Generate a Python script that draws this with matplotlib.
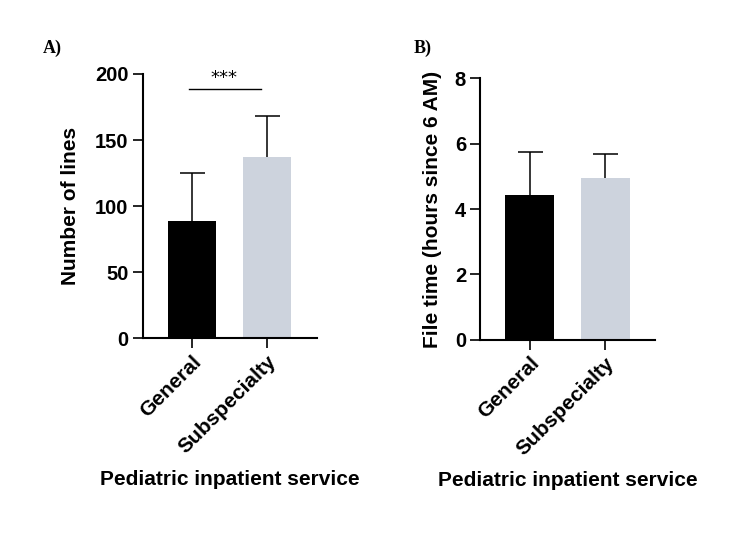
import numpy as np
import matplotlib
matplotlib.use("Agg")
import matplotlib.pyplot as plt

# data
groups = ["General", "Subspecialty"]
lines_mean = [89, 137]
lines_sd = [36, 31]
filetime_mean = [4.42, 4.94]
filetime_sd = [1.33, 0.74]

bar_colors = ["#000000", "#cdd3dd"]

plt.rcParams["font.family"] = ["Liberation Sans", "DejaVu Sans"]
plt.rcParams["font.weight"] = "bold"

fig = plt.figure(figsize=(7.5, 5.36), dpi=100)


def draw_panel(ax, means, sds, ylim, yticks, ylabel, ylabel_x, xlabel_y):
    x = np.arange(len(means))
    ax.bar(x, means, width=0.65, color=bar_colors, zorder=2)
    # upper error bars only
    _, caps, _ = ax.errorbar(x, means, yerr=[np.zeros(len(sds)), sds],
                             fmt="none", ecolor="black", elinewidth=1.1,
                             capsize=9, capthick=1.1, zorder=1)
    caps[0].set_visible(False)
    ax.set_xlim(-0.66, 1.66)
    ax.set_ylim(*ylim)
    ax.set_yticks(yticks)
    ax.set_xticks(x)
    ax.set_xticklabels(groups, rotation=45, ha="right",
                       rotation_mode="anchor", fontsize=15, fontweight="bold")
    for lab in ax.get_yticklabels():
        lab.set_fontsize(14.5)
        lab.set_fontweight("bold")
    for s in ["top", "right"]:
        ax.spines[s].set_visible(False)
    for s in ["left", "bottom"]:
        ax.spines[s].set_linewidth(1.5)
    ax.tick_params(axis="both", length=7, width=1.2, pad=3)
    ax.set_ylabel(ylabel, fontsize=15, fontweight="bold")
    ax.yaxis.set_label_coords(ylabel_x, 0.5)
    ax.set_xlabel("Pediatric inpatient service", fontsize=15,
                  fontweight="bold")
    ax.xaxis.set_label_coords(0.5, xlabel_y)


axA = fig.add_axes([0.190, 0.369, 0.232, 0.493])
draw_panel(axA, lines_mean, lines_sd, (0, 200), [0, 50, 100, 150, 200],
           "Number of lines", -0.36, -0.50)
axA.plot([-0.04, 0.92], [189, 189], color="black", lw=1.0, clip_on=False)
axA.text(0.43, 197, "***", ha="center", va="center", fontsize=13,
         fontweight="normal", family="DejaVu Sans")

axB = fig.add_axes([0.640, 0.366, 0.233, 0.488])
draw_panel(axB, filetime_mean, filetime_sd, (0, 8), [0, 2, 4, 6, 8],
           "File time (hours since 6 AM)", -0.22, -0.50)

fig.text(0.057, 0.91, "A)", fontsize=13, fontweight="bold",
         family="Liberation Serif", ha="left", va="center")
fig.text(0.551, 0.91, "B)", fontsize=13, fontweight="bold",
         family="Liberation Serif", ha="left", va="center")

fig.savefig("out.png", dpi=100)
